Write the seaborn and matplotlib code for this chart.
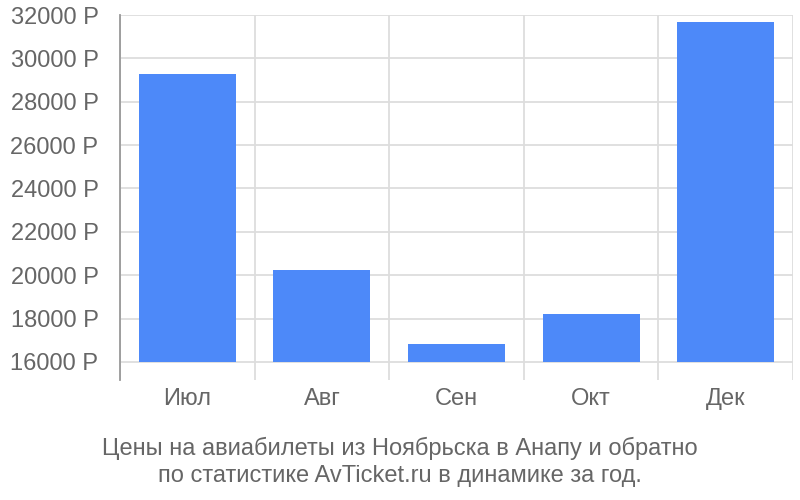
import matplotlib
matplotlib.use("Agg")
import matplotlib.pyplot as plt
import numpy as np
import pandas as pd
import seaborn as sns

months = ["Июл", "Авг", "Сен", "Окт", "Дек"]
prices = [29300, 20250, 16850, 18220, 31700]
y_ticks = [16000, 18000, 20000, 22000, 24000, 26000, 28000, 30000, 32000]
baseline = 16000
caption = ("Цены на авиабилеты из Ноябрьска в Анапу и обратно\n"
           "по статистике AvTicket.ru в динамике за год.")

sns.set_theme(style="white")
plt.rcParams['font.family'] = ['Liberation Sans', 'DejaVu Sans']

grid_col = "#dddddd"
text_col = "#666666"
bar_col = "#4d89f9"

df = pd.DataFrame({"month": months, "price": prices})

fig = plt.figure(figsize=(8, 5), dpi=100)
ax = fig.add_axes([120 / 800, 1 - 380 / 500, 673 / 800, 365 / 500])

sns.barplot(data=df, x="month", y="price", color=bar_col, width=0.72,
            saturation=1, ax=ax, zorder=3)
# bars start at the baseline, not at the axis bottom
for p in ax.patches:
    p.set_y(baseline)
    p.set_height(p.get_height() - baseline)
    p.set_edgecolor("none")

ax.set_xlim(-0.5, len(months) - 0.5)
ax.set_ylim(15170, 32000)
ax.set_yticks(y_ticks)
ax.set_yticklabels([f"{v} Р" for v in y_ticks])
ax.set_xticks(np.arange(-0.5, len(months)), minor=True)
ax.grid(True, axis="y", color=grid_col, linewidth=1.3, zorder=0)
ax.grid(True, axis="x", which="minor", color=grid_col, linewidth=1.3, zorder=0)
ax.tick_params(axis="y", length=14.5, width=1.3, color=grid_col, pad=1,
               labelsize=17, labelcolor=text_col)
ax.tick_params(axis="x", which="both", length=0, pad=6,
               labelsize=17, labelcolor=text_col)
ax.set_xlabel("")
ax.set_ylabel("")

for s in ["top", "right", "bottom"]:
    ax.spines[s].set_visible(False)
ax.spines["left"].set_color("#999999")
ax.spines["left"].set_linewidth(1.3)
ax.spines["left"].set_zorder(4)

fig.text(0.5, 1 - 462 / 500, caption, ha="center", va="center",
         fontsize=17, color=text_col, linespacing=1.3)

fig.savefig("out.png", dpi=100)
